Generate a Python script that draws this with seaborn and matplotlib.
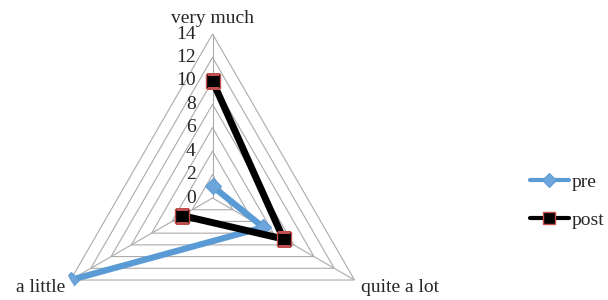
import numpy as np
import pandas as pd
import matplotlib
matplotlib.use("Agg")
import matplotlib.pyplot as plt
import seaborn as sns

categories = ["very much", "quite a lot", "a little"]
pre = [1, 5, 14]
post = [10, 7, 3]
ticks = [0, 2, 4, 6, 8, 10, 12, 14]

sns.set_style("white")
plt.rcParams["font.family"] = ["Liberation Serif", "DejaVu Serif"]
plt.rcParams["font.size"] = 14

fig = plt.figure(figsize=(6.08, 3.0), dpi=100)
ax = fig.add_axes([0.0798, -0.2067, 0.5395, 1.0933], projection="polar")
ax.set_theta_zero_location("N")
ax.set_theta_direction(-1)
ax.set_ylim(0, 14)
ax.grid(False)
ax.spines["polar"].set_visible(False)
ax.set_xticks([])
ax.set_yticklabels([])
ax.patch.set_alpha(0)

theta = np.deg2rad([0, 120, 240])
closed = np.append(theta, theta[0])

# triangle grid and spokes
for r in ticks[1:]:
    ax.plot(closed, [r] * 4, color="#ababab", lw=0.8, zorder=1)
for t in theta:
    ax.plot([t, t], [0, 14], color="#ababab", lw=0.8, zorder=1)

df_pre = pd.DataFrame({"theta": closed, "value": pre + pre[:1]})
df_post = pd.DataFrame({"theta": closed, "value": post + post[:1]})

sns.lineplot(data=df_pre, x="theta", y="value", sort=False, ax=ax,
             color="#5b9bd5", lw=4.5, marker="D", markersize=8,
             markerfacecolor="#6ea6dc", markeredgecolor="#5b9bd5",
             label="pre", zorder=3)
sns.lineplot(data=df_post, x="theta", y="value", sort=False, ax=ax,
             color="black", lw=5, marker="s", markersize=10,
             markerfacecolor="black", markeredgecolor="#c0504d",
             markeredgewidth=1, label="post", zorder=4)
ax.set_xlabel("")
ax.set_ylabel("")

# radial tick labels left of the top spoke
for r in ticks:
    ax.annotate(str(r), xy=(0, r), xytext=(-12, 0), textcoords="offset points",
                ha="right", va="center", fontsize=14, annotation_clip=False)

# category labels
ax.annotate(categories[0], xy=(theta[0], 14), xytext=(0, 5),
            textcoords="offset points", ha="center", va="bottom",
            annotation_clip=False)
ax.annotate(categories[1], xy=(theta[1], 14), xytext=(5, 1),
            textcoords="offset points", ha="left", va="top",
            annotation_clip=False)
ax.annotate(categories[2], xy=(theta[2], 14), xytext=(-4, 1),
            textcoords="offset points", ha="right", va="top",
            annotation_clip=False)

ax.legend_.remove()
handles, labels = ax.get_legend_handles_labels()
leg = fig.legend(handles, labels, loc="center left", bbox_to_anchor=(0.843, 0.33),
                 frameon=False, handlelength=2.0, handletextpad=0.15,
                 labelspacing=1.05, fontsize=14, markerscale=0.85)
for line in leg.get_lines():
    line.set_linewidth(3)

fig.savefig("out.png", dpi=100)
